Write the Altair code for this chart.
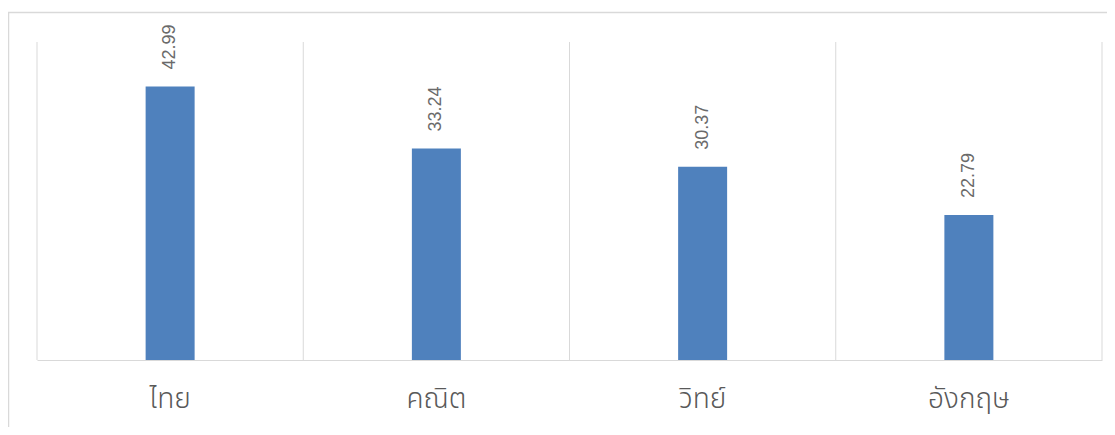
import altair as alt
import pandas as pd

subjects = ["ไทย", "คณิต", "วิทย์", "อังกฤษ"]
scores = [42.99, 33.24, 30.37, 22.79]

df = pd.DataFrame({"subject": subjects, "score": scores})

W, H = 1065, 318
GRID = "#d9d9d9"
TXT = "#595959"

xenc = alt.X("subject:N", sort=subjects,
             scale=alt.Scale(paddingInner=0, paddingOuter=0),
             axis=alt.Axis(title=None, grid=False, ticks=False, labels=False,
                           domainColor=GRID))
yenc = alt.Y("score:Q", scale=alt.Scale(domain=[0, 50]),
             axis=alt.Axis(title=None, labels=False, ticks=False, grid=False, domain=False))

base = alt.Chart(df)

grid = base.mark_rule(color=GRID, strokeWidth=1).encode(
    x=alt.X("subject:N", sort=subjects, bandPosition=0))
right_edge = alt.Chart(df.head(1)).mark_rule(color=GRID, strokeWidth=1).encode(
    x=alt.value(W))
frame = alt.Chart(df.head(1)).mark_rect(fill=None, stroke=GRID, strokeWidth=1.5).encode(
    x=alt.value(-28.5), x2=alt.value(W + 60), y=alt.value(-29.5), y2=alt.value(H + 120))

bars = base.mark_bar(size=49, color="#4f81bd").encode(x=xenc, y=yenc)
labels = base.mark_text(angle=270, align="left", baseline="middle", dx=17,
                        fontSize=18, color="#6a6a6a", font="Liberation Sans").encode(
    x=alt.X("subject:N", sort=subjects), y="score:Q",
    text=alt.Text("score:Q", format=".2f"))
cats = base.mark_text(align="center", baseline="middle", fontSize=28, fontWeight=300,
                      color=TXT,
                      font="Noto Sans Thai, Leelawadee UI, Tahoma, sans-serif").encode(
    x=alt.X("subject:N", sort=subjects), y=alt.value(H + 40), text="subject:N")

chart = alt.layer(frame, grid, right_edge, bars, labels, cats).properties(
    width=W, height=H,
    autosize=alt.AutoSizeParams(type="none"),
    padding={"left": 29, "top": 34, "right": 5, "bottom": 67},
).configure_view(stroke=None)

chart.save("out.html", embed_options={"renderer": "svg", "actions": False})
